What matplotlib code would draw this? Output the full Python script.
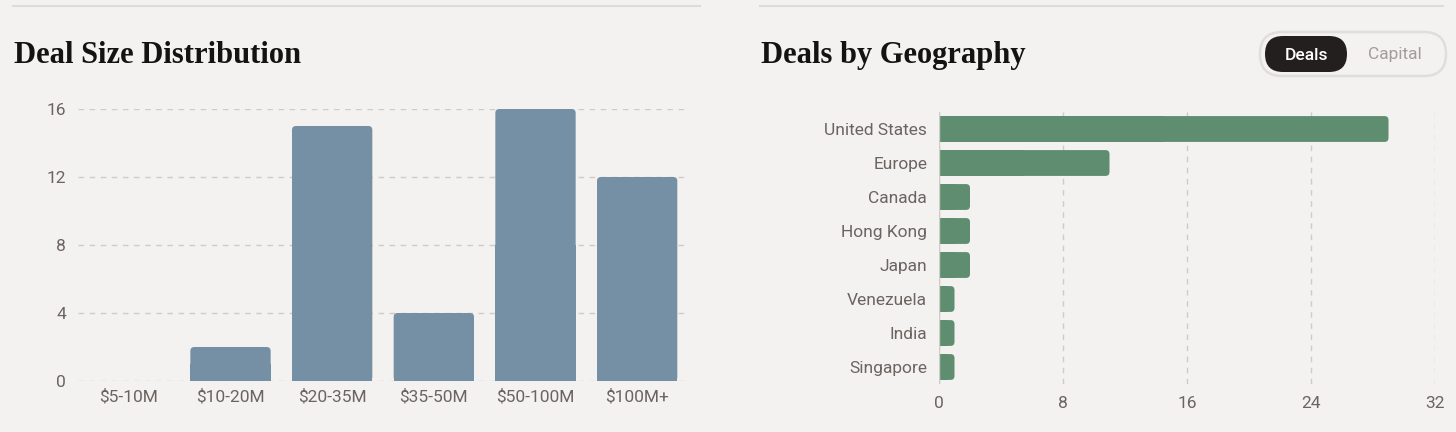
import matplotlib
matplotlib.use('Agg')
import matplotlib.pyplot as plt
from matplotlib.patches import FancyBboxPatch
from matplotlib.lines import Line2D

# data
size_labels = ['$5-10M', '$10-20M', '$20-35M', '$35-50M', '$50-100M', '$100M+']
size_counts = [0, 2, 15, 4, 16, 12]
size_ticks = [0, 4, 8, 12, 16]

geo_labels = ['United States', 'Europe', 'Canada', 'Hong Kong', 'Japan',
              'Venezuela', 'India', 'Singapore']
geo_counts = [29, 11, 2, 2, 2, 1, 1, 1]
geo_ticks = [0, 8, 16, 24, 32]

BG = '#f3f2f0'
BLUE = '#7590a4'
GREEN = '#5e8e6f'
TXT = '#6b6461'
GRID = '#cfccc8'

plt.rcParams['font.family'] = ['Roboto', 'DejaVu Sans']

fig = plt.figure(figsize=(14.56, 4.32), dpi=100, facecolor=BG)

# separator lines + titles
fig.add_artist(Line2D([13 / 1456, 700 / 1456], [0.986, 0.986], color='#dedcd9', lw=1.5))
fig.add_artist(Line2D([760 / 1456, 1443 / 1456], [0.986, 0.986], color='#dedcd9', lw=1.5))
fig.text(14 / 1456, 0.872, 'Deal Size Distribution', family='Liberation Serif',
         weight='bold', fontsize=22, color='#151311', va='center')
fig.text(761 / 1456, 0.872, 'Deals by Geography', family='Liberation Serif',
         weight='bold', fontsize=22, color='#151311', va='center')


def round_px(ax, r_px):
    # radius in data units for x and y
    bb = ax.get_window_extent()
    x0, x1 = ax.get_xlim()
    y0, y1 = ax.get_ylim()
    ux = r_px * abs(x1 - x0) / bb.width
    uy = r_px * abs(y1 - y0) / bb.height
    return ux, uy


# ---- left: deal size
ax1 = fig.add_axes([78 / 1456, 1 - 381 / 432, 610 / 1456, 272 / 432])
ax1.set_facecolor(BG)
x = range(len(size_labels))
bars = ax1.bar(x, size_counts, width=0.79, color=BLUE, zorder=3)
ax1.set_xlim(-0.5, len(size_labels) - 0.5)
ax1.set_ylim(0, 16)
ux, uy = round_px(ax1, 4)
for b in bars:
    h = b.get_height()
    if h <= 0:
        continue
    p = FancyBboxPatch((b.get_x(), 0), b.get_width(), h,
                       boxstyle=f'round,pad=0,rounding_size={ux}',
                       mutation_aspect=uy / ux, fc=BLUE, ec='none', zorder=3)
    ax1.add_patch(p)
    b.set_height(h / 2)
ax1.set_yticks(size_ticks)
ax1.set_xticks(list(x))
ax1.set_xticklabels(size_labels)
ax1.grid(axis='y', ls=(0, (4, 4)), color=GRID, lw=1, zorder=0)
ax1.tick_params(length=0, labelsize=12.5, labelcolor=TXT)
ax1.tick_params(axis='x', pad=6)
ax1.tick_params(axis='y', pad=8.5)
for s in ax1.spines.values():
    s.set_visible(False)

# ---- right: geography
ax2 = fig.add_axes([939 / 1456, 1 - 384 / 432, 496 / 1456, 272 / 432])
ax2.set_facecolor(BG)
y = range(len(geo_labels))
hbars = ax2.barh(y, geo_counts, height=0.76, color=GREEN, zorder=3)
ax2.set_xlim(0, 32)
ax2.set_ylim(len(geo_labels) - 0.5, -0.5)
ux, uy = round_px(ax2, 4)
for b in hbars:
    w = b.get_width()
    p = FancyBboxPatch((0, b.get_y()), w, b.get_height(),
                       boxstyle=f'round,pad=0,rounding_size={ux}',
                       mutation_aspect=uy / ux, fc=GREEN, ec='none', zorder=3)
    ax2.add_patch(p)
    b.set_width(w / 2)
ax2.set_xticks(geo_ticks)
ax2.set_yticks(list(y))
ax2.set_yticklabels(geo_labels)
ax2.grid(axis='x', ls=(0, (4, 4)), color=GRID, lw=1, zorder=0)
ax2.axvline(0, color=GRID, lw=1, zorder=4)
ax2.tick_params(length=0, labelsize=12.5, labelcolor=TXT)
ax2.tick_params(axis='x', pad=8.5)
ax2.tick_params(axis='y', pad=8.5)
for s in ax2.spines.values():
    s.set_visible(False)

# ---- toggle pill
axt = fig.add_axes([1258 / 1456, 1 - 78 / 432, 190 / 1456, 48 / 432])
axt.set_xlim(0, 190)
axt.set_ylim(0, 48)
axt.axis('off')
axt.add_patch(FancyBboxPatch((2, 2), 186, 44, boxstyle='round,pad=0,rounding_size=22',
                             fc=BG, ec='#e0deda', lw=1.8))
axt.add_patch(FancyBboxPatch((7, 6), 82, 36, boxstyle='round,pad=0,rounding_size=18',
                             fc='#231f1e', ec='none'))
axt.text(48, 23, 'Deals', color='white', fontsize=12.5, ha='center', va='center',
         weight='medium')
axt.text(137, 23, 'Capital', color='#a39d99', fontsize=12.5, ha='center', va='center')

fig.savefig('out.png', dpi=100, facecolor=BG)
